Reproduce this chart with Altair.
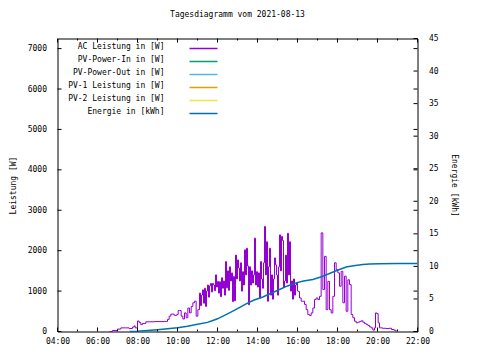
import altair as alt
import pandas as pd

# ---------------- data ----------------
ac_times = [
    "06:36", "06:45", "07:00", "07:10", "07:25", "07:35", "07:45", "07:50", "07:53", "08:00",
    "08:05", "08:10", "08:15", "08:25", "08:50", "09:20", "09:30", "09:35", "09:40", "09:50",
    "09:58", "10:02", "10:06", "10:11", "10:16", "10:21", "10:26", "10:31", "10:36", "10:41",
    "10:46", "10:51", "10:56", "11:01",
    "11:06", "11:09", "11:12", "11:15", "11:18", "11:21", "11:24", "11:27", "11:30", "11:33",
    "11:36", "11:39", "11:42", "11:45", "11:48", "11:51", "11:54", "11:57", "12:00", "12:03",
    "12:06", "12:09", "12:12", "12:15", "12:18", "12:21", "12:24", "12:27", "12:30", "12:33",
    "12:36", "12:39", "12:42", "12:45", "12:48", "12:51", "12:54", "12:57", "13:00", "13:03",
    "13:06", "13:09", "13:12", "13:15", "13:18", "13:21", "13:24", "13:27", "13:30", "13:33",
    "13:36", "13:39", "13:42", "13:45", "13:48", "13:51", "13:54", "13:57", "14:00", "14:03",
    "14:06", "14:09", "14:12", "14:15", "14:18", "14:21", "14:24", "14:27", "14:30", "14:33",
    "14:36", "14:39", "14:42", "14:45", "14:48", "14:51", "14:54", "14:57", "15:00", "15:03",
    "15:06", "15:09", "15:12", "15:15", "15:18", "15:21", "15:24", "15:27", "15:30", "15:33",
    "15:36", "15:39", "15:42", "15:45", "15:48", "15:51", "15:54", "15:57", "16:00", "16:03",
    "16:06", "16:11", "16:16", "16:21", "16:26",
    "16:31", "16:36", "16:41", "16:46", "16:51", "16:56", "17:01", "17:06", "17:11", "17:16",
    "17:21", "17:26", "17:31", "17:36", "17:41", "17:46", "17:51", "17:56", "18:01", "18:06",
    "18:11", "18:16", "18:21", "18:26", "18:31", "18:36", "18:41", "18:46", "18:51", "18:56",
    "19:01", "19:06", "19:11", "19:16", "19:21", "19:26", "19:31", "19:36", "19:41", "19:46",
    "19:51", "19:54", "19:58", "20:02", "20:06", "20:15", "20:25", "20:35", "20:42", "20:50",
    "20:56",
]
ac_power = [
    0, 25, 60, 90, 90, 75, 110, 140, 90, 260,
    220, 170, 200, 240, 245, 250, 300, 380, 430, 400,
    420, 520, 520, 380, 310, 460, 340, 580, 460, 620,
    710, 750, 380, 540,
    950, 640, 900, 1030, 700, 1070, 620, 1000, 1150, 850,
    1130, 1190, 980, 1190, 1150, 1010, 1400, 1100, 1240, 950,
    1230, 860, 1330, 1070, 1250, 900, 1730, 1080, 1500, 1020,
    1600, 1250, 1450, 740, 1360, 760, 1890, 1300, 1770, 1570,
    1250, 1700, 1000, 1480, 1150, 2020, 1400, 2060, 1620, 660,
    1600, 1150, 1500, 1200, 1400, 2310, 1150, 1480, 1100, 1450,
    820, 1730, 1300, 1070, 1700, 2600, 1400, 2220, 750, 1600,
    2060, 900, 1400, 800, 1300, 1820, 1650, 1400, 900, 1600,
    2390, 1500, 2350, 2250, 1100, 1250, 1890, 1200, 2430, 1400,
    2220, 1000, 1250, 800, 1300, 900, 1150, 1200, 1000, 990,
    830, 750, 750, 670, 540,
    420, 395, 460, 580, 790, 830, 790, 870, 2440, 1040,
    1860, 540, 1240, 540, 460, 870, 1700, 1530, 1450, 1120,
    1490, 710, 1370, 500, 1280, 1160, 420, 340, 255, 215,
    230, 245, 265, 230, 200, 175, 150, 115, 90, 35,
    90, 460, 440, 215, 90, 80, 75, 80, 50, 30,
    0,
]

energy_times = [
    "07:36", "08:00", "08:30", "09:00", "09:30", "10:00", "10:30", "11:00", "11:30", "11:46",
    "12:00", "12:18", "12:36", "13:00", "13:26", "13:48", "14:16", "14:36", "15:06", "15:30",
    "15:56", "16:18", "16:46", "17:12", "17:36", "18:00", "18:26", "18:48", "19:16", "19:36",
    "20:06", "21:00", "22:00",
]
energy_kwh = [
    0.0, 0.05, 0.15, 0.28, 0.42, 0.58, 0.8, 1.1, 1.4, 1.69,
    1.95, 2.4, 2.87, 3.5, 4.25, 4.8, 5.3, 5.75, 6.45, 7.0,
    7.47, 7.75, 7.98, 8.4, 8.9, 9.4, 9.9, 10.1, 10.3, 10.35,
    10.4, 10.45, 10.45,
]

legend_labels = [
    "AC Leistung in [W]", "PV-Power-In in [W]", "PV-Power-Out in [W]",
    "PV-1 Leistung in [W]", "PV-2 Leistung in [W]", "Energie in [kWh]",
]
legend_colors = ["#9400d3", "#009e73", "#56b4e9", "#e69f00", "#f0e442", "#0072b2"]

major_hours = list(range(4, 23, 2))
minor_hours = list(range(5, 22, 2))
power_ticks = [0, 1000, 2000, 3000, 4000, 5000, 6000, 7000]
energy_ticks = [0, 5, 10, 15, 20, 25, 30, 35, 40, 45]

TITLE = "Tagesdiagramm vom 2021-08-13"
FONT = "DejaVu Sans Mono"
W, H = 360, 293


def to_hours(s):
    h, m = s.split(":")
    return int(h) + int(m) / 60.0


ac_df = pd.DataFrame({"t": [to_hours(s) for s in ac_times], "p": ac_power})
en_df = pd.DataFrame({"t": [to_hours(s) for s in energy_times], "e": energy_kwh})
major_df = pd.DataFrame({"t": major_hours})
minor_df = pd.DataFrame({"t": minor_hours})
ptick_df = pd.DataFrame({"p": power_ticks})
etick_df = pd.DataFrame({"e": energy_ticks})
legend_df = pd.DataFrame({"label": legend_labels, "color": legend_colors,
                          "row": list(range(len(legend_labels)))})

xscale = alt.Scale(domain=[4, 22], nice=False, zero=False)
pscale = alt.Scale(domain=[0, 7250], nice=False)
escale = alt.Scale(domain=[0, 45], nice=False)

common_axis = dict(
    ticks=False, domain=False, grid=False, labelFlush=False, labelOverlap=False,
    labelFont=FONT, labelFontSize=8, labelColor="black",
    titleFont=FONT, titleFontSize=8, titleFontWeight="normal", titleColor="black",
)
x_axis = alt.Axis(
    values=major_hours,
    labelExpr="(datum.value < 10 ? '0' : '') + datum.value + ':00'",
    labelPadding=6, title=None, **common_axis,
)
p_axis = alt.Axis(
    values=power_ticks, format="d", labelPadding=11,
    title="Leistung [W]", titlePadding=10, orient="left", **common_axis,
)
e_axis = alt.Axis(
    values=energy_ticks, format="d", labelPadding=11,
    title="Energie [kWh]", titlePadding=11, orient="right", **common_axis,
)
X = alt.X("t:Q", scale=xscale, axis=x_axis)
YP = alt.Y("p:Q", scale=pscale, axis=p_axis)
YE = alt.Y("e:Q", scale=escale, axis=e_axis)

ac_line = alt.Chart(ac_df).mark_line(
    color=legend_colors[0], strokeWidth=1, interpolate="step-after"
).encode(x=X, y=YP)
ptick_left = alt.Chart(ptick_df).mark_rule(color="black").encode(
    y=YP, x=alt.value(0), x2=alt.value(4)
)
ptick_right = alt.Chart(ptick_df).mark_rule(color="black").encode(
    y=YP, x=alt.value(W - 4), x2=alt.value(W)
)
left_group = alt.layer(ac_line, ptick_left, ptick_right)

en_line = alt.Chart(en_df).mark_line(color=legend_colors[5], strokeWidth=1.5).encode(
    x=X, y=YE
)
etick_right = alt.Chart(etick_df).mark_rule(color="black").encode(
    y=YE, x=alt.value(W - 4), x2=alt.value(W)
)
right_group = alt.layer(en_line, etick_right)


def xticks(df, y0, y1):
    return alt.Chart(df).mark_rule(color="black").encode(
        x=X, y=alt.value(y0), y2=alt.value(y1)
    )


tick_layers = [
    xticks(major_df, H, H - 4), xticks(minor_df, H, H - 2),
    xticks(major_df, 0, 4), xticks(minor_df, 0, 2),
]

legend_layers = []
for i in range(len(legend_labels)):
    ry = 10 + 13 * i
    one = legend_df[legend_df["row"] == i]
    legend_layers.append(
        alt.Chart(one).mark_text(align="right", baseline="middle", font=FONT,
                                 fontSize=8, color="black").encode(
            x=alt.value(107), y=alt.value(ry - 1.5), text="label:N")
    )
    legend_layers.append(
        alt.Chart(one).mark_rule(strokeWidth=1.5).encode(
            x=alt.value(132), x2=alt.value(160), y=alt.value(ry),
            color=alt.Color("color:N", scale=None))
    )

chart = alt.layer(left_group, right_group, *tick_layers, *legend_layers).resolve_scale(
    y="independent"
).properties(
    width=W, height=H,
    background="white",
    title=alt.TitleParams(TITLE, font=FONT, fontSize=8, fontWeight="normal",
                          color="black", offset=16, frame="group", anchor="middle"),
    autosize=alt.AutoSizeParams(type="none"),
    padding={"left": 49.5, "top": 30.5, "right": 54, "bottom": 20},
).configure_view(
    stroke="black", strokeWidth=1
)

chart.save("out.html", embed_options={"renderer": "svg", "actions": False})
